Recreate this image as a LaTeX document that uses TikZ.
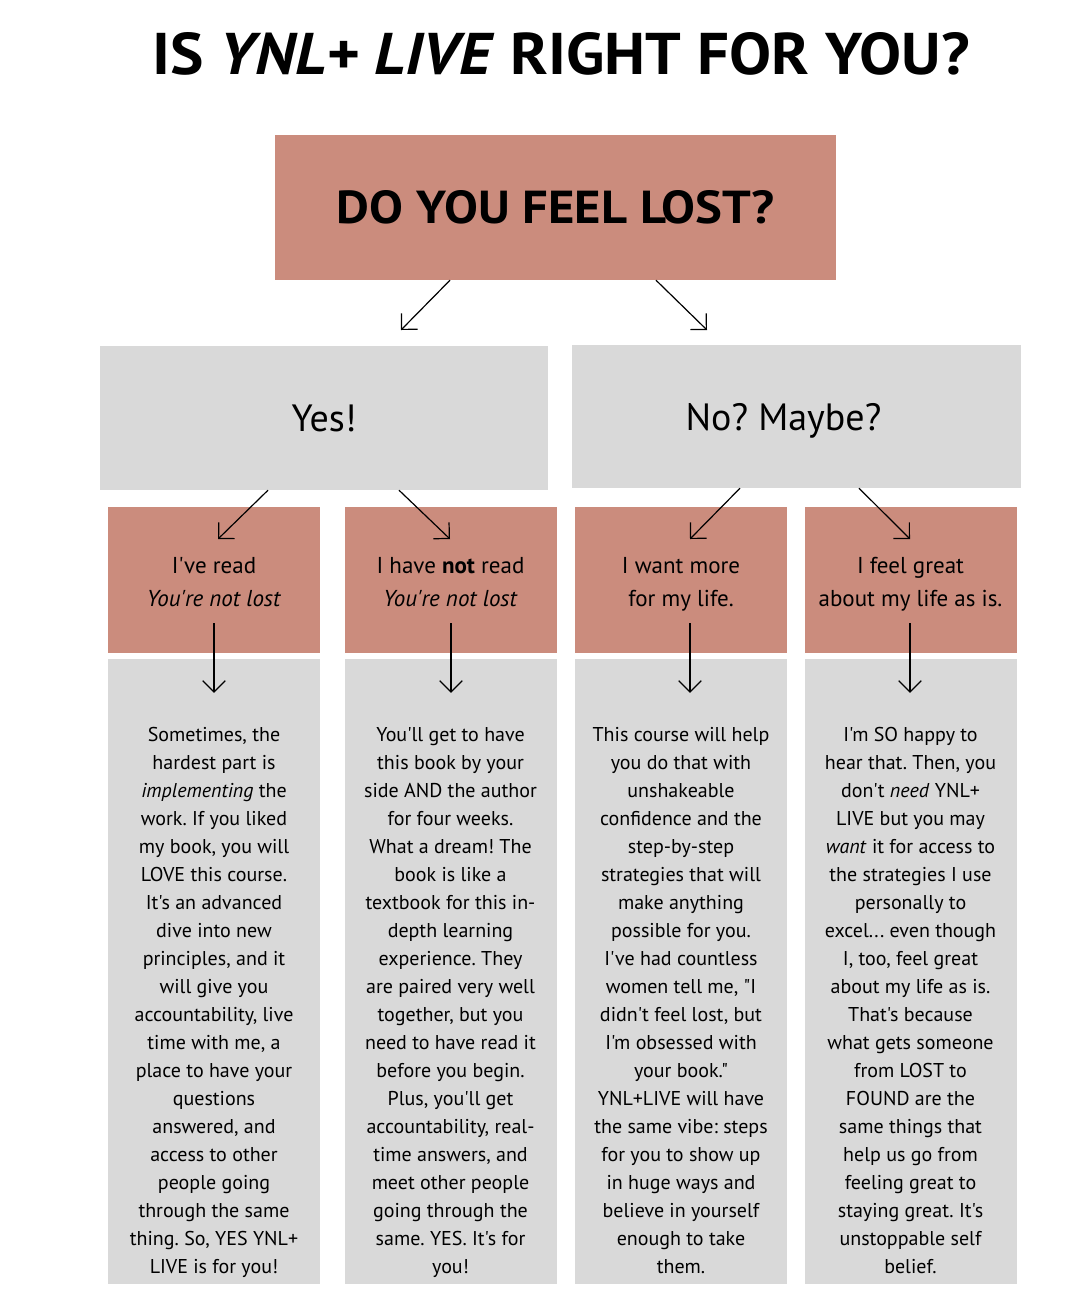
\documentclass[tikz,border=0pt]{standalone}
\usepackage{fontspec}
\setmainfont[Ligatures=TeXOff]{PT Sans}
\usetikzlibrary{arrows.meta}
\definecolor{salmon}{RGB}{203,140,125}
\definecolor{boxgray}{RGB}{217,217,217}
\frenchspacing
\tikzset{
  question/.style={fill=salmon, minimum width=561pt, minimum height=145pt, inner sep=0pt},
  answer/.style={fill=boxgray, minimum width=448pt, minimum height=144pt, inner sep=0pt, font=\fontsize{38}{44}\selectfont},
  choice/.style={fill=salmon, minimum width=212pt, minimum height=146pt, inner sep=0pt},
  choicetext/.style={inner sep=0pt, align=center, font=\fontsize{23}{33}\selectfont},
  detail/.style={fill=boxgray, minimum width=212pt, minimum height=625pt, inner sep=0pt},
  bodytext/.style={anchor=north, inner sep=0pt, align=center, font=\fontsize{20}{28}\selectfont},
  arr/.style={-{Straight Barb[length=11.3pt,width=22.6pt]}, line width=1.2pt}
}
\begin{document}
\begin{tikzpicture}[x=1pt,y=-1pt]
\useasboundingbox[fill=white] (0,0) rectangle (1080,1302);

% Titulo
\node (title) at (561,54) {\resizebox{817pt}{42pt}{\bfseries IS \textit{YNL+ LIVE} RIGHT FOR YOU?}};

% Pregunta
\node[question] (lost) at (555.5,207.5) {\resizebox{437pt}{33pt}{\bfseries DO YOU FEEL LOST?}};

% Respuestas
\node[answer] (yes) at (324,418) {Yes!};
\node[answer, minimum width=449pt, minimum height=143pt, text depth=0pt] (maybe) at (796.5,416.5) {No? Maybe?\hspace*{26pt}};

% Opciones
\node[choice] (c1) at (214,580) {};
\node[choice] (c2) at (450.5,580) {};
\node[choice] (c3) at (681,580) {};
\node[choice] (c4) at (910.5,580) {};
\node[choicetext] (l1) at ([yshift=-2pt]c1.center) {I've read\\\textit{You're not lost}};
\node[choicetext] (l2) at ([yshift=-2pt]c2.center) {I have \textbf{not} read\\\textit{You're not lost}};
\node[choicetext] (l3) at ([yshift=-4pt]c3.center) {I want more\\for my life.};
\node[choicetext] (l4) at ([yshift=-4pt]c4.center) {I feel great\\about my life as is.};

% Cajas de texto
\node[detail] (d1) at (214,971.5) {};
\node[detail] (d2) at (450.5,971.5) {};
\node[detail] (d3) at (681,971.5) {};
\node[detail] (d4) at (910.5,971.5) {};

\node[bodytext] (t1) at (214,727) {Sometimes, the\\hardest part is\\\textit{implementing} the\\work. If you liked\\my book, you will\\LOVE this course.\\It's an advanced\\dive into new\\principles, and it\\will give you\\accountability, live\\time with me, a\\place to have your\\questions\\answered, and\\access to other\\people going\\through the same\\thing. So, YES YNL+\\LIVE is for you!};
\node[bodytext] (t2) at (450.5,727) {You'll get to have\\this book by your\\side AND the author\\for four weeks.\\What a dream! The\\book is like a\\textbook for this in-\\depth learning\\experience. They\\are paired very well\\together, but you\\need to have read it\\before you begin.\\Plus, you'll get\\accountability, real-\\time answers, and\\meet other people\\going through the\\same. YES. It's for\\you!};
\node[bodytext] (t3) at (681,727) {This course will help\\you do that with\\unshakeable\\confidence and the\\step-by-step\\strategies that will\\make anything\\possible for you.\\I've had countless\\women tell me, "I\\didn't feel lost, but\\I'm obsessed with\\your book."\\YNL+LIVE will have\\the same vibe: steps\\for you to show up\\in huge ways and\\believe in yourself\\enough to take\\them.};
\node[bodytext] (t4) at (910.5,727) {I'm SO happy to\\hear that. Then, you\\don't \textit{need} YNL+\\LIVE but you may\\\textit{want} it for access to\\the strategies I use\\personally to\\excel... even though\\I, too, feel great\\about my life as is.\\That's because\\what gets someone\\from LOST to\\FOUND are the\\same things that\\help us go from\\feeling great to\\staying great. It's\\unstoppable self\\belief.};

% Flechas
\coordinate (tipyes) at (401,330);
\coordinate (tipmaybe) at (707,330);
\draw[arr] ([xshift=-105.5pt]lost.south) -- (tipyes);
\draw[arr] ([xshift=100.5pt]lost.south) -- (tipmaybe);

\coordinate (tip1) at (218,539);
\coordinate (tip2) at (450,539);
\coordinate (tip3) at (690,539);
\coordinate (tip4) at (910,539);
\draw[arr] ([xshift=-56pt]yes.south) -- (tip1);
\draw[arr] ([xshift=75pt]yes.south) -- (tip2);
\draw[arr] ([xshift=-56.5pt]maybe.south) -- (tip3);
\draw[arr] ([xshift=62.5pt]maybe.south) -- (tip4);

\draw[arr] ([yshift=30pt]c1.south) -- ([yshift=-34pt]d1.north);
\draw[arr] ([xshift=0.5pt,yshift=30pt]c2.south) -- ([xshift=0.5pt,yshift=-34pt]d2.north);
\draw[arr] ([xshift=9pt,yshift=30pt]c3.south) -- ([xshift=9pt,yshift=-34pt]d3.north);
\draw[arr] ([xshift=-0.5pt,yshift=30pt]c4.south) -- ([xshift=-0.5pt,yshift=-34pt]d4.north);
\end{tikzpicture}
\end{document}
